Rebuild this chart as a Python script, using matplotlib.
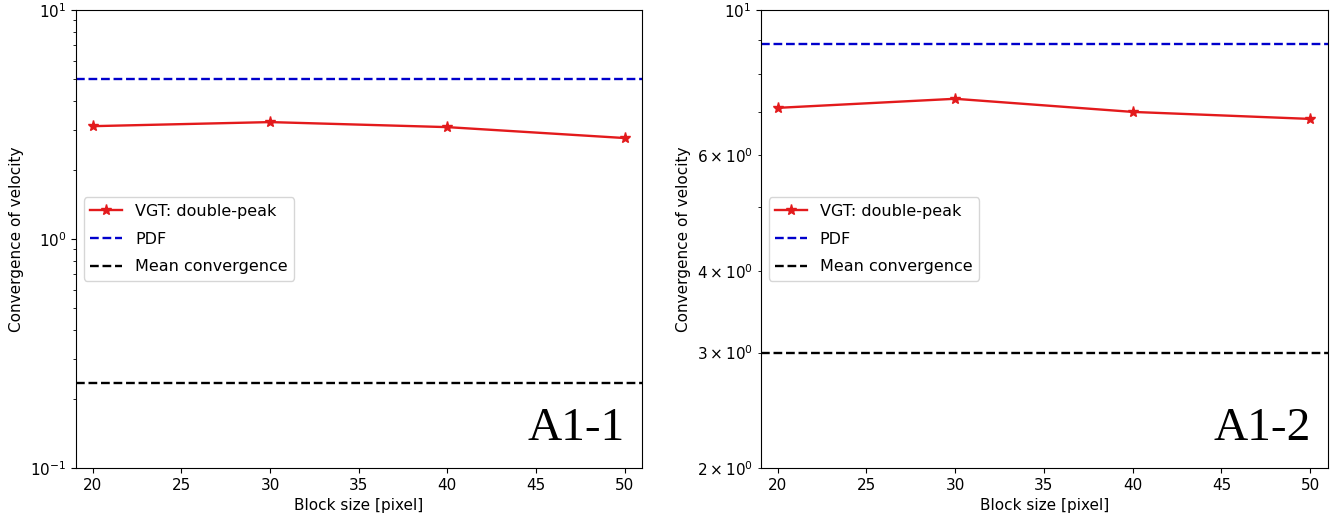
import matplotlib
matplotlib.use('Agg')
import matplotlib.pyplot as plt
import numpy as np

FONT_SIZE = 11

block_size = [20, 30, 40, 50]

# A1-1
vgt_a11 = [3.11, 3.24, 3.08, 2.76]
pdf_a11 = 5.0
mean_a11 = 0.235

# A1-2
vgt_a12 = [7.09, 7.32, 6.99, 6.82]
pdf_a12 = 8.87
mean_a12 = 3.0

panels = [
    ('A1-1', vgt_a11, pdf_a11, mean_a11, (0.1, 10)),
    ('A1-2', vgt_a12, pdf_a12, mean_a12, (2, 10)),
]

plt.rcParams['font.size'] = FONT_SIZE

fig = plt.figure(figsize=(13.38, 5.21), dpi=100)
positions = [[0.0568, 0.1017, 0.4230, 0.8791],
             [0.5685, 0.1017, 0.4238, 0.8791]]

for pos, (name, vgt, pdf, mean, ylim) in zip(positions, panels):
    ax = fig.add_axes(pos)
    ax.plot(block_size, vgt, color='#e31a1c', marker='*', markersize=8,
            linewidth=1.7, label='VGT: double-peak')
    ax.axhline(pdf, color='#0000cc', linestyle='--', linewidth=1.7, label='PDF')
    ax.axhline(mean, color='black', linestyle='--', linewidth=1.7,
               label='Mean convergence')
    ax.set_yscale('log')
    ax.set_ylim(*ylim)
    ax.set_xlim(19.05, 50.98)
    ax.set_xlabel('Block size [pixel]')
    ax.set_ylabel('Convergence of velocity')
    ax.legend(loc='center left', fontsize=11.5, labelspacing=0.8)
    ax.text(0.97, 0.04, name, transform=ax.transAxes, ha='right', va='bottom',
            family='Liberation Serif', fontsize=34)

fig.savefig('out.png', dpi=100)
